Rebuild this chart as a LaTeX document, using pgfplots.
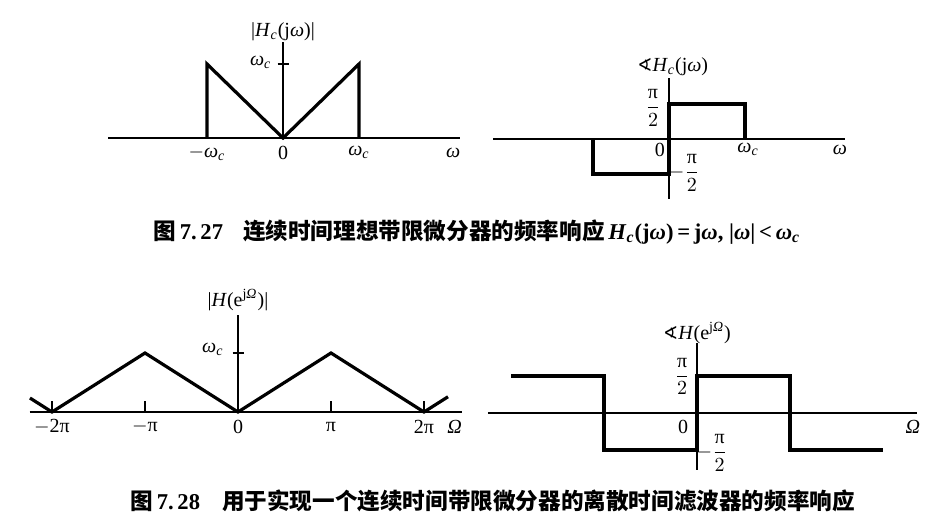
\documentclass[border=0pt]{standalone}
\usepackage{amsmath,amssymb}
\usepackage{fontspec}
\setmainfont{Liberation Serif}
\newfontfamily\cjk{Noto Sans CJK SC}
\newfontfamily\dejavu{DejaVu Sans}
\usepackage{pgfplots}
\pgfplotsset{compat=1.18}
\newcommand{\om}{\textit{ω}}
\newcommand{\wc}{\textit{ω}\textsubscript{\textit{c}}}
\newcommand{\hpi}{$\dfrac{\text{π}}{2}$}
\newcommand{\ang}{{\dejavu\fontsize{9}{10}\selectfont ∢}}
\pgfplotsset{
  sig/.style={
    axis lines=middle, clip=false,
    axis line style={-, line width=0.6pt, black},
    xtick=\empty, ytick=\empty,
    major tick length=5.5pt,
    tick style={line width=0.6pt, black},
    font=\fontsize{10}{11}\selectfont,
  },
  sp/.style={black, line width=1.6pt, mark=none, line join=miter},
}
\begin{document}
\begin{tikzpicture}
\useasboundingbox (0,0) rectangle (462.5pt,263.5pt);
% ---------- Fig 7.27 left: magnitude ----------
\begin{axis}[sig, x=38pt, y=37pt, xmin=-2.30, xmax=2.33, ymin=0, ymax=1.30,
  ytick={1}, ytick align=center, yticklabels={,},
  anchor=origin, at={(141.5pt,194.5pt)}]
\addplot[sp] coordinates {(-1,0) (-1,1) (0,0) (1,1) (1,0)};
\node at (axis cs:0,1.43) {|\textit{H}\textsubscript{\textit{c}}(j\om)|};
\node[anchor=east] at (axis cs:-0.06,1.02) {\wc};
\node at (axis cs:-1,-0.2) {$-$\wc};
\node at (axis cs:0,-0.2) {0};
\node at (axis cs:1,-0.2) {\wc};
\node at (axis cs:2.24,-0.2) {\om};
\end{axis}
% ---------- Fig 7.27 right: phase ----------
\begin{axis}[sig, x=38pt, y=17.5pt, xmin=-2.31, xmax=2.31, ymin=-1.7, ymax=1.74,
  anchor=origin, at={(334.5pt,194pt)}]
\addplot[sp] coordinates {(-1,0) (-1,-1) (0,-1) (0,1) (1,1) (1,0)};
\node at (axis cs:0.05,2.06) {\ang\textit{H}\textsubscript{\textit{c}}(j\om)};
\node at (axis cs:-0.21,0.89) {\hpi};
\node at (axis cs:-0.12,-0.31) {0};
\node at (axis cs:0.2,-0.97) {$-$\hpi};
\node at (axis cs:1.04,-0.31) {\wc};
\node at (axis cs:2.25,-0.31) {\om};
\end{axis}
% ---------- Fig 7.28 left: magnitude ----------
\begin{axis}[sig, x=46.5pt, y=29.5pt, xmin=-2.24, xmax=2.41, ymin=0, ymax=1.64,
  xtick={-2,-1,1,2}, xtick align=inside, xticklabels={,,,,},
  ytick={1}, ytick align=center, yticklabels={,},
  anchor=origin, at={(119pt,57.5pt)}]
\addplot[sp] coordinates {(-2.237,0.237) (-2,0) (-1,1) (0,0) (1,1) (2,0) (2.258,0.258)};
\node at (axis cs:0,1.9) {|\textit{H}(e\textsuperscript{j\textit{Ω}})|};
\node[anchor=east] at (axis cs:-0.08,1.06) {\wc};
\node at (axis cs:-2,-0.25) {$-$2π};
\node at (axis cs:-1,-0.25) {$-$π};
\node at (axis cs:0,-0.25) {0};
\node at (axis cs:1,-0.25) {π};
\node at (axis cs:2,-0.25) {2π};
\node at (axis cs:2.33,-0.25) {\textit{Ω}};
\end{axis}
% ---------- Fig 7.28 right: phase ----------
\begin{axis}[sig, x=46.5pt, y=18.5pt, xmin=-2.25, xmax=2.37, ymin=-1.54, ymax=1.89,
  anchor=origin, at={(348.5pt,57pt)}]
\addplot[sp] coordinates {(-2,1) (-1,1) (-1,-1) (0,-1) (0,1) (1,1) (1,-1) (2,-1)};
\node at (axis cs:0,2.16) {\ang\textit{H}(e\textsuperscript{j\textit{Ω}})};
\node at (axis cs:-0.16,0.98) {\hpi};
\node at (axis cs:-0.15,-0.38) {0};
\node at (axis cs:0.16,-1.08) {$-$\hpi};
\node at (axis cs:2.32,-0.38) {\textit{Ω}};
\end{axis}
% ---------- captions ----------
\node[anchor=west, inner sep=0pt, font=\fontsize{11.3}{13}\selectfont\bfseries] at (76.5pt,147.5pt)
  {{\cjk 图}\,7.\,27\hspace{10pt}{\cjk 连续时间理想带限微分器的频率响应}\,\textit{H}\textsubscript{\textit{c}}(j\om)\,=\,j\om,\ |\om|\,<\,\wc};
\node[anchor=west, inner sep=0pt, font=\fontsize{11.3}{13}\selectfont\bfseries] at (65pt,13pt)
  {{\cjk 图}\,7.\,28\hspace{11pt}{\cjk 用于实现一个连续时间带限微分器的离散时间滤波器的频率响应}};
\end{tikzpicture}
\end{document}
